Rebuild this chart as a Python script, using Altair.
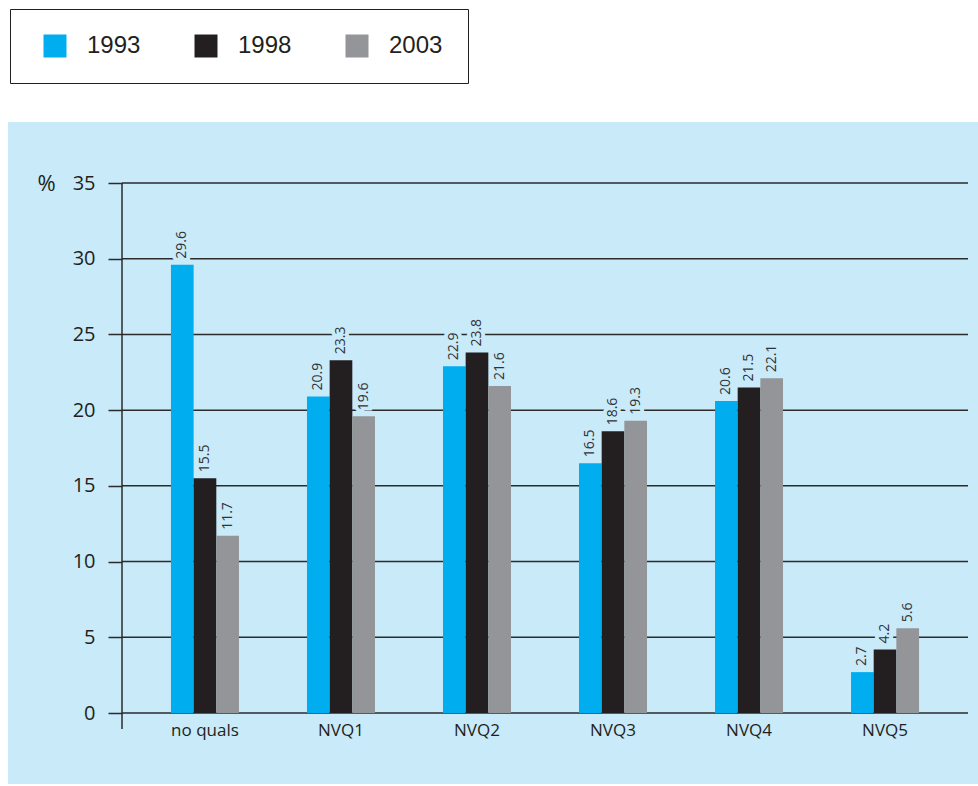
import altair as alt
import pandas as pd

# Share of people by highest qualification, three survey years
categories = ["no quals", "NVQ1", "NVQ2", "NVQ3", "NVQ4", "NVQ5"]
years = ["1993", "1998", "2003"]
v1993 = [29.6, 20.9, 22.9, 16.5, 20.6, 2.7]
v1998 = [15.5, 23.3, 23.8, 18.6, 21.5, 4.2]
v2003 = [11.7, 19.6, 21.6, 19.3, 22.1, 5.6]
y_ticks = [0, 5, 10, 15, 20, 25, 30, 35]

colors = ["#00aeef", "#231f20", "#939598"]
panel_blue = "#c8eaf9"
ink = "#231f20"
line_col = "#2b2b2b"
axis_font = "Open Sans"

rows = []
for year, series in zip(years, [v1993, v1998, v2003]):
    for cat, val in zip(categories, series):
        rows.append({"category": cat, "year": year, "value": val,
                     "label": f"{val:.1f}"})
df = pd.DataFrame(rows)
grid_df = pd.DataFrame({"tick": y_ticks})

W, H = 846, 530

x_enc = alt.X("category:N", sort=categories,
              scale=alt.Scale(paddingInner=0.5, paddingOuter=0.36),
              axis=alt.Axis(title=None, domain=False, ticks=False,
                            labelAngle=0, labelFont=axis_font,
                            labelFontSize=17, labelColor=ink,
                            labelPadding=9, zindex=1))
y_scale = alt.Scale(domain=[0, 35], nice=False)

# light blue panel behind the plot
panel = alt.Chart(pd.DataFrame({"k": [0]})).mark_rect(
    color=panel_blue).encode(
    x=alt.value(-114), x2=alt.value(W + 10),
    y=alt.value(-61), y2=alt.value(H + 71))

grid = alt.Chart(grid_df).mark_rule(color=line_col, strokeWidth=1.5).encode(
    y=alt.Y("tick:Q", scale=y_scale))

y_axis_line = alt.Chart(pd.DataFrame({"k": [0]})).mark_rule(
    color=line_col, strokeWidth=1.5).encode(
    x=alt.value(0), y=alt.value(0), y2=alt.value(H + 16))

bars = alt.Chart(df).mark_bar().encode(
    x=x_enc,
    xOffset=alt.XOffset("year:N", sort=years),
    y=alt.Y("value:Q", scale=y_scale,
            axis=alt.Axis(values=y_ticks, grid=False, domain=False,
                          tickSize=14, tickColor=line_col, tickWidth=1.5,
                          labelFont=axis_font, labelFontSize=20,
                          labelColor=ink, labelPadding=13,
                          title="%", titleAngle=0, titleX=-76, titleY=0,
                          titleAlign="center", titleBaseline="middle",
                          titleFont=axis_font, titleFontSize=22,
                          titleFontWeight="normal", titleColor=ink,
                          zindex=1)),
    color=alt.Color("year:N", sort=years,
                    scale=alt.Scale(domain=years, range=colors),
                    legend=alt.Legend(title=" ", titleOrient="left",
                                      titlePadding=8, titleFontSize=1,
                                      orient="none",
                                      direction="horizontal",
                                      legendX=-112, legendY=-174,
                                      symbolType="square", symbolSize=529,
                                      symbolStrokeWidth=0, symbolOpacity=1,
                                      labelFont="Liberation Sans",
                                      labelFontSize=24, labelColor=ink,
                                      labelOffset=20, columnPadding=53,
                                      padding=25, strokeColor=ink,
                                      fillColor="white")),
)

label_base = alt.Chart(df).encode(
    x=x_enc,
    xOffset=alt.XOffset("year:N", sort=years),
    y=alt.Y("value:Q", scale=y_scale),
    text="label:N",
)
# panel-coloured outline behind the value labels breaks the gridlines
halo = label_base.mark_text(angle=270, align="left", baseline="middle",
                            dx=6, font=axis_font, fontSize=14,
                            stroke=panel_blue, strokeWidth=8,
                            color=panel_blue)
labels = label_base.mark_text(angle=270, align="left", baseline="middle",
                              dx=6, font=axis_font, fontSize=14,
                              color="#333333")

chart = alt.layer(panel, grid, y_axis_line, halo, bars, labels).properties(
    width=W, height=H,
    padding={"left": 8, "top": 8, "right": 0, "bottom": 1},
).configure_view(stroke=None).configure_legend(
    strokeWidth=1.5
).configure(background="white")

chart.save("out.html", embed_options={"renderer": "svg", "actions": False})
